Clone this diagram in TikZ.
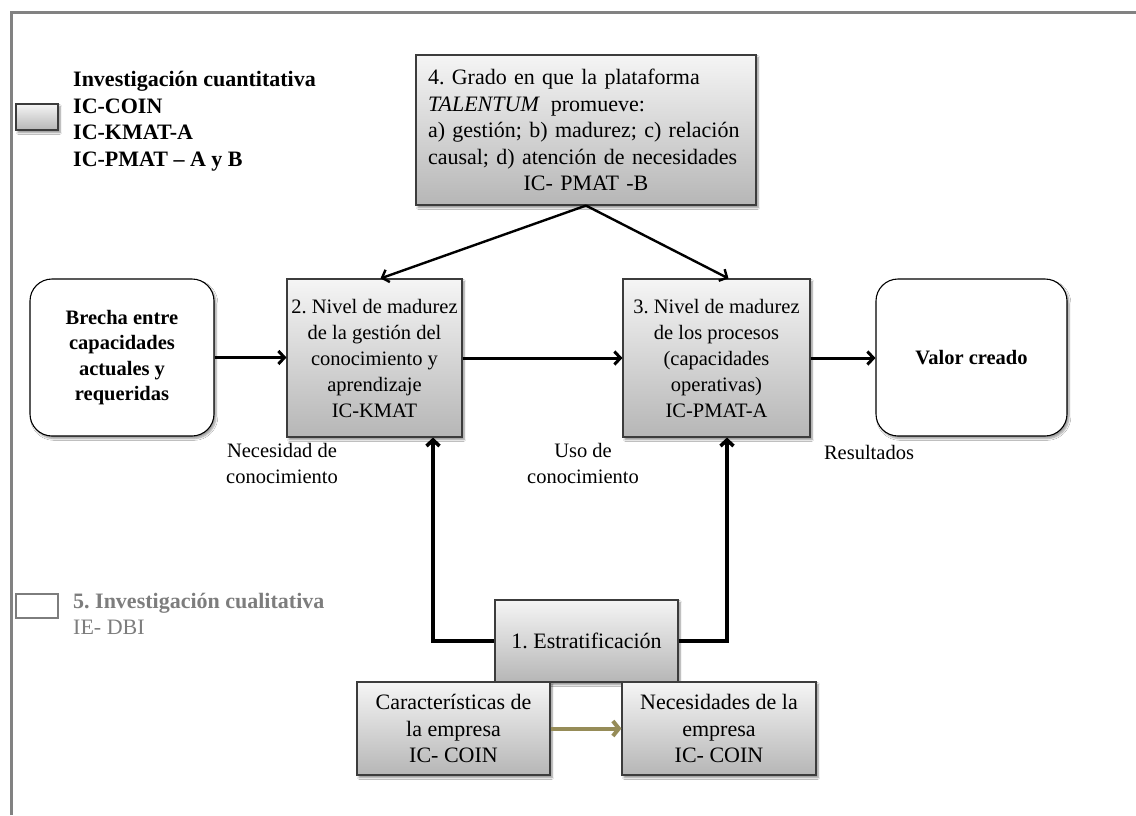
\documentclass[tikz,border=0pt]{standalone}
\usepackage{fontspec}
\setmainfont{Liberation Serif}
\usetikzlibrary{arrows.meta,shadows.blur,calc}
\frenchspacing

\definecolor{framegray}{RGB}{130,130,130}
\definecolor{boxedge}{RGB}{60,60,60}
\definecolor{boxtop}{RGB}{245,245,245}
\definecolor{boxbottom}{RGB}{182,182,182}
\definecolor{olivearrow}{RGB}{150,140,88}
\definecolor{legendgray}{RGB}{125,125,125}

% font sizes (1pt = 1 output pixel)
\newcommand\fbig{\fontsize{22}{26.5}\selectfont}
\newcommand\fmid{\fontsize{20.5}{26}\selectfont}
\newcommand\fbold{\fontsize{20.5}{25.5}\selectfont\bfseries}

\begin{document}
\begin{tikzpicture}[x=1pt,y=-1pt,
  graybox/.style={draw=boxedge, line width=1.1pt, top color=boxtop, bottom color=boxbottom,
    blur shadow={shadow xshift=2pt, shadow yshift=-2.5pt, shadow opacity=45, shadow blur steps=6},
    align=center, inner sep=3pt},
  roundbox/.style={draw=black, line width=1.1pt, fill=white, rounded corners=22pt,
    blur shadow={shadow xshift=2pt, shadow yshift=-2.5pt, shadow opacity=40, shadow blur steps=6},
    align=center, inner sep=3pt},
  conn/.style={line width=3pt, -{Straight Barb[length=6pt,width=13pt]}},
  connthin/.style={line width=2.4pt, -{Straight Barb[length=6pt,width=13pt]}},
  connup/.style={line width=3.6pt, line join=miter, -{Straight Barb[length=6pt,width=13pt]}},
  connolive/.style={draw=olivearrow, line width=4pt, -{Straight Barb[length=6pt,width=15pt]}},
  label/.style={font=\fmid, align=center, inner sep=0pt}
]
\useasboundingbox (0,0) rectangle (1136,815);
\fill[white] (0,0) rectangle (1136,815);

% frame
\draw[framegray, line width=3pt] (11,815) -- (11,12) -- (1136,12);

% legend
\node[graybox, minimum width=42pt, minimum height=26pt, inner sep=0pt] (legq) at (37,117) {};
\node[font=\fbig\bfseries, anchor=west, align=left, inner sep=0pt] (legqt) at (73,121)
  {Investigación cuantitativa\\IC-COIN\\IC-KMAT-A\\IC-PMAT -- A y B};
\node[draw=legendgray, line width=2pt, fill=white, minimum width=42pt, minimum height=24pt, inner sep=0pt] (legc) at (36.5,605.5) {};
\node[font=\fbig, text=legendgray, anchor=west, align=left, inner sep=0pt] (legct) at (73,614)
  {\textbf{5. Investigación cualitativa}\\IE- DBI};

% main boxes
\node[graybox, minimum width=340pt, minimum height=150pt, text width=316pt, align=left, font=\fbig] (plat) at (586,130)
  {4. Grado en que la plataforma\\\textit{TALENTUM}\, promueve:\\a) gestión; b) madurez; c) relación\\causal; d) atención de necesidades\\\makebox[316pt][c]{IC- PMAT -B}};

\node[roundbox, minimum width=184pt, minimum height=157pt, font=\fbold] (gap) at (122,357.5)
  {Brecha entre\\capacidades\\actuales y\\requeridas};
\node[graybox, minimum width=175pt, minimum height=158pt, font=\fmid] (kmat) at (374.5,358)
  {2. Nivel de madurez\\de la gestión del\\conocimiento y\\aprendizaje\\IC-KMAT};
\node[graybox, minimum width=187pt, minimum height=158pt, font=\fmid] (pmat) at (716.5,358)
  {3. Nivel de madurez\\de los procesos\\(capacidades\\operativas)\\IC-PMAT-A};
\node[roundbox, minimum width=191pt, minimum height=157pt, font=\fbold] (value) at (971.5,357.5)
  {Valor creado};

% connectors behind the stratification box
\draw[connup] (586,641) coordinate (stl) -| ($(kmat.south)+(58.5,0)$);
\draw[connup] (586,641) coordinate (str) -| ($(pmat.south)+(10.5,0)$);

\node[graybox, minimum width=183pt, minimum height=82pt, font=\fbig] (strat) at (586.5,641)
  {1. Estratificación};
\node[graybox, minimum width=193pt, minimum height=93pt, font=\fbig] (chars) at (453.5,728.5)
  {Características de\\la empresa\\IC- COIN};
\node[graybox, minimum width=194pt, minimum height=93pt, font=\fbig] (needs) at (719,728.5)
  {Necesidades de la\\empresa\\IC- COIN};

% connectors
\draw[connthin] (plat.south) -- ($(kmat.north)+(6,0)$);
\draw[connthin] (plat.south) -- ($(pmat.north)+(12,0)$);
\draw[conn] (gap.east) -- (gap.east -| kmat.west);
\draw[conn] (kmat.east) -- (kmat.east -| pmat.west);
\draw[conn] (pmat.east) -- (pmat.east -| value.west);
\draw[connolive] (chars.east) -- (chars.east -| needs.west);

% flow labels
\node[label] (lneed) at (282,463) {Necesidad de\\conocimiento};
\node[label] (luse) at (583,463) {Uso de\\conocimiento};
\node[label] (lres) at (869,452) {Resultados};
\end{tikzpicture}
\end{document}
